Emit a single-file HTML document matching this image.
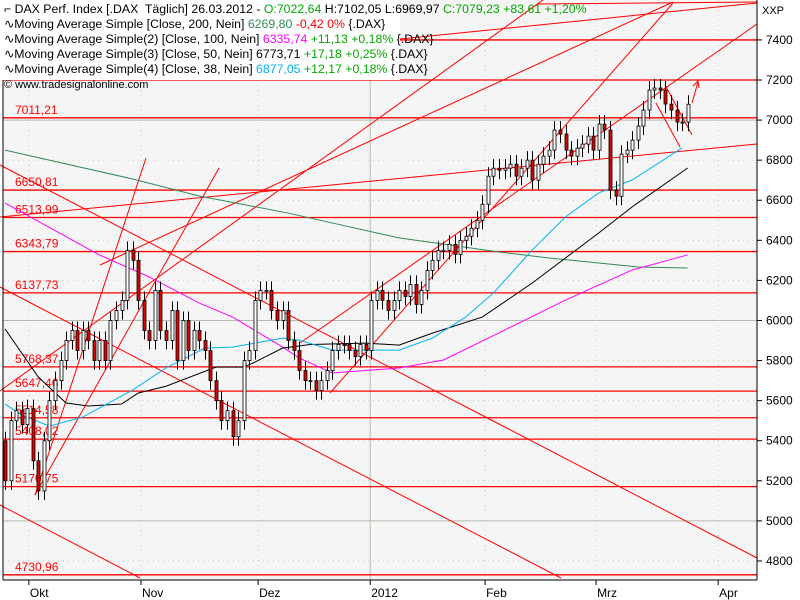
<!DOCTYPE html>
<html><head><meta charset="utf-8"><style>
body{margin:0;width:800px;height:600px;overflow:hidden;background:#fff;font-family:"Liberation Sans",sans-serif}
#legend{position:absolute;left:0;top:0;width:400px;height:78px;background:#fff;font-size:12.3px;line-height:15px;color:#000;padding-top:2px}
#legend div{white-space:nowrap;padding-left:4px}
.g{color:#00a800}.r{color:#f00}.m{color:#f0f}.c{color:#00b0f0}.dg{color:#2e8b57}
#copy{position:absolute;left:4px;top:79px;font-size:11px;color:#000}
</style></head><body>
<svg id="chart" width="800" height="600" style="position:absolute;left:0;top:0" xmlns="http://www.w3.org/2000/svg" font-family="Liberation Sans, sans-serif">
<rect x="3" y="0" width="754" height="580" fill="#f5f5f5"/>
<g id="grid"></g><g id="levels"></g><g id="diag"></g><g id="mas"></g><g id="candles"></g><g id="axes"></g>
</svg>
<div id="legend">
<div>&#x2310; DAX Perf. Index [.DAX&nbsp; Täglich] 26.03.2012 - <span class="g">O:7022,64</span> H:7102,05 L:6969,97 <span class="g">C:7079,23 +83,61 +1,20%</span></div>
<div>∿Moving Average Simple [Close, 200, Nein] <span class="dg">6269,80</span> <span class="r">-0,42 0%</span> {.DAX}</div>
<div>∿Moving Average Simple(2) [Close, 100, Nein] <span class="m">6335,74</span> <span class="g">+11,13 +0,18%</span> {.DAX}</div>
<div>∿Moving Average Simple(3) [Close, 50, Nein] 6773,71 <span class="g">+17,18 +0,25%</span> {.DAX}</div>
<div>∿Moving Average Simple(4) [Close, 38, Nein] <span class="c">6877,05</span> <span class="g">+12,17 +0,18%</span> {.DAX}</div>
</div>
<div id="copy">© www.tradesignalonline.com</div>
<script>
const closes=[5200,5500,5550,5480,5560,5300,5150,5400,5600,5700,5800,5900,5950,5850,5950,5900,5800,5900,5800,6000,6050,6100,6350,6300,6100,5950,5900,6150,5950,5900,6050,5800,6000,5850,5950,5900,5850,5700,5600,5500,5550,5420,5500,5800,5850,6100,6150,6150,6050,6000,6050,5900,5850,5750,5700,5700,5650,5700,5750,5850,5880,5880,5850,5820,5880,5850,6100,6150,6100,6050,6100,6150,6120,6180,6080,6150,6250,6300,6350,6350,6380,6330,6400,6420,6460,6500,6580,6720,6760,6750,6760,6780,6720,6760,6800,6700,6780,6820,6850,6950,6930,6850,6820,6860,6880,6920,6850,6980,6950,6650,6620,6830,6850,6900,6970,7050,7150,7160,7150,7080,7050,6990,6990,7079];
const firstOpen=5400;
const ma200Idx=[0,23,35,51,71,80,89,98,107,114,123];
const ma200Val=[6850,6706,6621,6536,6412,6377,6342,6312,6287,6267,6262];
const ma100Idx=[0,17,26,35,41,50,53,59,71,79,89,101,113,123];
const ma100Val=[6586,6327,6217,6087,6017,5868,5813,5738,5763,5803,5938,6102,6252,6327];
const ma50Idx=[0,6,11,15,21,24,29,38,43,45,50,55,65,71,77,86,95,107,113,123];
const ma50Val=[5958,5718,5588,5573,5583,5638,5672,5767,5767,5792,5862,5880,5887,5877,5937,6017,6187,6437,6567,6761];
const ma38Idx=[0,3,8,14,23,29,36,41,45,50,53,59,71,77,83,88,95,101,107,113,122];
const ma38Val=[5583,5528,5473,5518,5653,5763,5862,5867,5887,5912,5902,5852,5852,5912,6017,6137,6352,6517,6637,6701,6861];
const levels=[7011.21,6650.81,6513.99,6343.79,6137.73,5768.37,5647.46,5514.58,5408.02,5170.75,4730.96];
const levelLabels=["7011,21","6650,81","6513,99","6343,79","6137,73","5768,37","5647,46","5514,58","5408,02","5170,75","4730,96"];
const yTicks=[4800,5000,5200,5400,5600,5800,6000,6200,6400,6600,6800,7000,7200,7400];
const months=["Okt","Nov","Dez","2012","Feb","Mrz","Apr"];
const monthIdx=[4.3,24.5,45.6,65.8,86.5,106.5,128.5];

const NS="http://www.w3.org/2000/svg";
const X=i=>5+i*5.55;
const Y=v=>80+(7200-v)*0.2004;
function mk(parent,tag,attrs){const e=document.createElementNS(NS,tag);for(const k in attrs)e.setAttribute(k,attrs[k]);document.getElementById(parent).appendChild(e);return e;}

yTicks.forEach(v=>{
  const solid=(v%1000===0);
  const l=mk('grid','line',{x1:3,x2:757,y1:Y(v),y2:Y(v),stroke:solid?'#b4bcae':'#c8c8c8','stroke-width':1,'stroke-dasharray':solid?'':'1,4'});
  
  
  const t=mk('axes','line',{x1:757,x2:762,y1:Y(v),y2:Y(v),stroke:'#000'});
  
  
  const tx=mk('axes','text',{x:766,y:Y(v)+4,'font-size':12,fill:'#000'});tx.textContent=String(v);
  
  
});
months.forEach((m,k)=>{
  const x=X(monthIdx[k]);
  const yr=(m==='2012');
  const l=mk('grid','line',{x1:x,x2:x,y1:0,y2:580,stroke:yr?'#b4bcae':'#c8c8c8','stroke-dasharray':yr?'':'1,4'});
  
  
  const t=mk('axes','line',{x1:x,x2:x,y1:580,y2:585,stroke:'#000'});
  
  
  const tx=mk('axes','text',{x:x+1,y:597,'font-size':12,fill:'#000'});tx.textContent=m;
  
  
});
levels.forEach((v,k)=>{
  const l=mk('levels','line',{x1:3,x2:757,y1:Y(v),y2:Y(v),stroke:'#f00','stroke-width':1.3});
  
  
  const t=mk('levels','text',{x:15,y:Y(v)-4,'font-size':12,fill:'#f00'});t.textContent=levelLabels[k];
  
  
});
[7200,7400].forEach(v=>{
  const l=mk('levels','line',{x1:v===7400?400:3,x2:757,y1:Y(v),y2:Y(v),stroke:'#f00','stroke-width':1.3});
  
  
});
const trend=[[0,165,757,558],[0,287,561,578],[0,505,140,578],[0,217,757,144],[35,495,146,158],[35,495,219,168],[0,391,543,0],[100,265,673,2],[330,393,673,3],[300,343,757,24],[400,39,757,3],[537,4,757,2],[665,85,692,135],[656,103,680,147],[692,103,698,82]];
trend.forEach(s=>{
  const l=mk('diag','line',{x1:s[0],y1:s[1],x2:s[2],y2:s[3],stroke:'#f00','stroke-width':1});
  
  
});
const ah=mk('diag','polyline',{points:'693,86 698,81 699,88',fill:'none',stroke:'#f00'});


function ma(idx,val,color,name){
  const p=mk('mas','polyline',{points:idx.map((i,k)=>X(i)+','+Y(val[k])).join(' '),fill:'none',stroke:color,'stroke-width':1});
  
  
}
ma(ma200Idx,ma200Val,'#2e8b57','ma200-line');
ma(ma100Idx,ma100Val,'#ff00ff','ma100-line');
ma(ma50Idx,ma50Val,'#000000','ma50-line');
ma(ma38Idx,ma38Val,'#00b4f0','ma38-line');
closes.forEach((c,i)=>{
  const o=i===0?firstOpen:closes[i-1];
  const hi=Math.max(o,c)+45, lo=Math.min(o,c)-45;
  const x=Math.round(X(i))+0.5;
  const w=mk('candles','line',{x1:x,x2:x,y1:Y(hi),y2:Y(lo),stroke:'#000'});
  
  
  const top=Y(Math.max(o,c)),h=Math.max(1,Y(Math.min(o,c))-top);
  const b=mk('candles','rect',{x:x-1.5,y:top,width:3,height:h,fill:c>=o?'#fff':'#e00000',stroke:'#000','stroke-width':0.8});
  
  
});
[[3,0,3,580],[3,580,757,580],[757,0,757,580]].forEach(s=>{
  const l=mk('axes','line',{x1:s[0],y1:s[1],x2:s[2],y2:s[3],stroke:'#000'});
  
  
});
const xxp=mk('axes','text',{x:762,y:14,'font-size':11,fill:'#000'});xxp.textContent='XXP';


</script>
</body></html>
